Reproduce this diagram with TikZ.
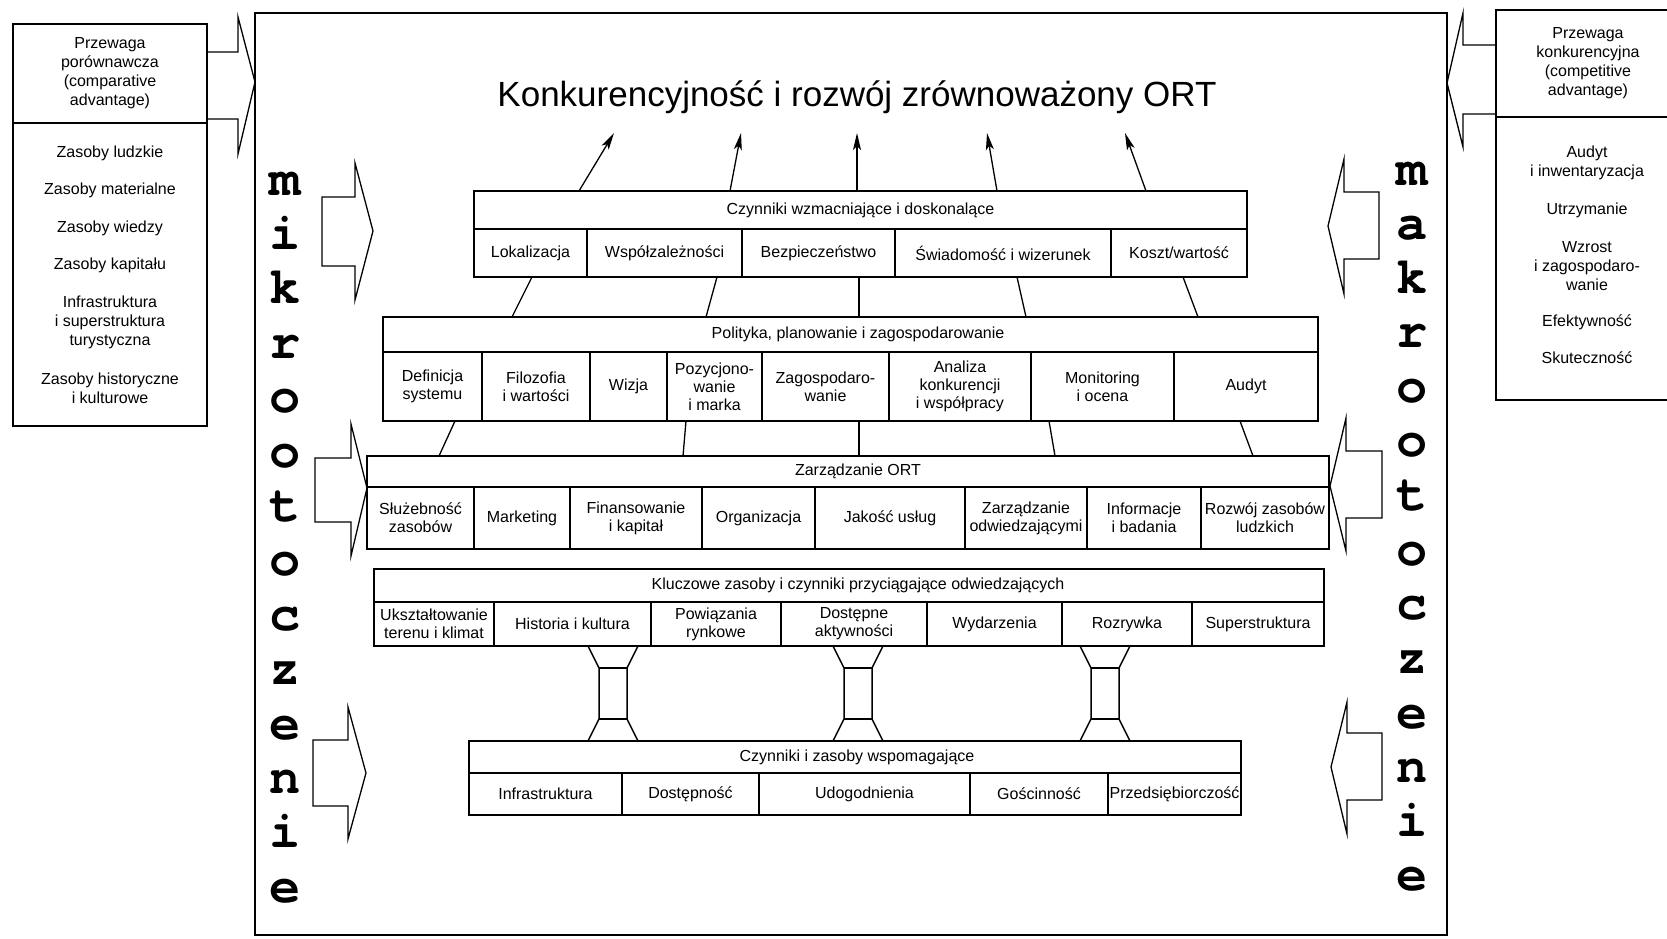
\documentclass[tikz,border=0pt]{standalone}
\usepackage{fontspec}
\setmainfont{Liberation Sans}
\newfontfamily\envfont{texgyrecursor-bold.otf}
\usetikzlibrary{arrows.meta}
% one cell of a layered box: name, left x, right x, centre y, height, text
\newcommand{\rowcell}[6]{%
  \node[cell, minimum width={#3-#2}, minimum height={#5}] (#1) at ({(#2+#3)/2},{#4}) {#6};}
\begin{document}
\begin{tikzpicture}[x=1pt,y=-1pt,
  every node/.style={inner sep=0pt, outer sep=0pt},
  cell/.style={draw, line width=1.7pt, align=center, font=\fontsize{16}{18}\selectfont},
  sidebox/.style={draw, line width=1.7pt, align=center, font=\fontsize{16}{19}\selectfont},
  sidetext/.style={align=center, font=\fontsize{16}{19}\selectfont},
  link/.style={line width=1.3pt},
  uparrow/.style={line width=1.3pt, -{Stealth[length=17pt,width=8pt,inset=4pt]}},
  blockarrow/.style={draw, line width=1.3pt, line join=miter},
  envletter/.style={font=\envfont\fontsize{52}{52}\selectfont}
]
\useasboundingbox (0,0) rectangle (1667,939);

% outer frame
\node[draw, line width=1.8pt, minimum width=1192, minimum height=922] (frame) at (851,474) {};
\draw[line width=2.8pt] (frame.north west) -- (frame.north east);

% title
\node[font=\fontsize{35}{40}\selectfont] (title) at (857,97) {Konkurencyjność i rozwój zrównoważony ORT};

% left side box: comparative advantage
\node[sidebox, minimum width=194, minimum height=99] (lbtop) at (110,73.5)
  {Przewaga\\porównawcza\\(comparative\\advantage)};
\node[draw, line width=1.7pt, minimum width=194, minimum height=303] (lbbot) at (110,274.5) {};
\node[sidetext] (l1) at (110,153) {Zasoby ludzkie};
\node[sidetext] (l2) at (110,190) {Zasoby materialne};
\node[sidetext] (l3) at (110,228) {Zasoby wiedzy};
\node[sidetext] (l4) at (110,265) {Zasoby kapitału};
\node[sidetext] (l5) at (110,322) {Infrastruktura\\i superstruktura\\turystyczna};
\node[sidetext] (l6) at (110,388) {Zasoby historyczne\\i kulturowe};

% right side box: competitive advantage
\node[sidebox, minimum width=184, minimum height=107] (rbtop) at (1588,63.5)
  {Przewaga\\konkurencyjna\\(competitive\\advantage)};
\node[draw, line width=1.7pt, minimum width=184, minimum height=283] (rbbot) at (1588,258.5) {};
\node[sidetext] (r1) at (1587,163) {Audyt\\i inwentaryzacja};
\node[sidetext] (r2) at (1587,210) {Utrzymanie};
\node[sidetext] (r3) at (1587,266) {Wzrost\\i zagospodaro-\\wanie};
\node[sidetext] (r4) at (1587,322) {Efektywność};
\node[sidetext] (r5) at (1587,358) {Skuteczność};

% big arrows from the side boxes into the frame
\draw[blockarrow] (207,52) -- (238,52) -- (238,17) -- (255,82) -- (238,154) -- (238,119) -- (207,119);
\draw[blockarrow] (1496,45) -- (1463,45) -- (1463,13) -- (1447,83) -- (1463,147) -- (1463,114) -- (1496,114);

% micro-environment arrows (pointing right)
\draw[blockarrow] (322,197) -- (355,197) -- (355,163) -- (373,231) -- (355,300) -- (355,266) -- (322,266) -- cycle;
\draw[blockarrow] (315,458) -- (351,458) -- (351,424) -- (367,488) -- (351,556) -- (351,522) -- (315,522) -- cycle;
\draw[blockarrow] (313,740) -- (348,740) -- (348,707) -- (366,773) -- (348,839) -- (348,806) -- (313,806) -- cycle;

% macro-environment arrows (pointing left)
\draw[blockarrow] (1379,192) -- (1344,192) -- (1344,159) -- (1328,226) -- (1344,294) -- (1344,259) -- (1379,259) -- cycle;
\draw[blockarrow] (1382,451) -- (1346,451) -- (1346,418) -- (1330,486) -- (1346,551) -- (1346,518) -- (1382,518) -- cycle;
\draw[blockarrow] (1382,733) -- (1347,733) -- (1347,702) -- (1331,767) -- (1347,834) -- (1347,800) -- (1382,800) -- cycle;

% vertical words
\foreach \ch [count=\k from 0] in {m,i,k,r,o,o,t,o,c,z,e,n,i,e}
  \node[envletter, anchor=base] (mikro\k) at (285,{195+54.4*\k}) {\ch};
\foreach \ch [count=\k from 0] in {m,a,k,r,o,o,t,o,c,z,e,n,i,e}
  \node[envletter, anchor=base] (makro\k) at (1412,{185+54.3*\k}) {\ch};

% layer 1
\rowcell{b1h}{474}{1247}{210}{38}{Czynniki wzmacniające i doskonalące}
\rowcell{b1a}{474}{587}{253}{48}{Lokalizacja}
\rowcell{b1b}{587}{742}{253}{48}{Współzależności}
\rowcell{b1c}{742}{895}{253}{48}{Bezpieczeństwo}
\rowcell{b1d}{895}{1111}{253}{48}{Świadomość i wizerunek}
\rowcell{b1e}{1111}{1247}{253}{48}{Koszt/wartość}

% layer 2 (header text sits on the common axis, slightly right of the box centre)
\rowcell{b2h}{383}{1318}{334.5}{35}{\hspace*{15pt}Polityka, planowanie i zagospodarowanie}
\rowcell{b2a}{383}{482}{386.5}{69}{Definicja\\systemu}
\rowcell{b2b}{482}{590}{386.5}{69}{Filozofia\\i wartości}
\rowcell{b2c}{590}{667}{386.5}{69}{Wizja}
\rowcell{b2d}{667}{762}{386.5}{69}{Pozycjono-\\wanie\\i marka}
\rowcell{b2e}{762}{889}{386.5}{69}{Zagospodaro-\\wanie}
\rowcell{b2f}{889}{1031}{386.5}{69}{Analiza\\konkurencji\\i współpracy}
\rowcell{b2g}{1031}{1174}{386.5}{69}{Monitoring\\i ocena}
\rowcell{b2i}{1174}{1318}{386.5}{69}{Audyt}

% layer 3
\rowcell{b3h}{367}{1329}{471.5}{31}{\hspace*{20pt}Zarządzanie ORT}
\rowcell{b3a}{367}{474}{518}{62}{Służebność\\zasobów}
\rowcell{b3b}{474}{570}{518}{62}{Marketing}
\rowcell{b3c}{570}{702}{518}{62}{Finansowanie\\i kapitał}
\rowcell{b3d}{702}{815}{518}{62}{Organizacja}
\rowcell{b3e}{815}{965}{518}{62}{Jakość usług}
\rowcell{b3f}{965}{1087}{518}{62}{Zarządzanie\\odwiedzającymi}
\rowcell{b3g}{1087}{1201}{518}{62}{Informacje\\i badania}
\rowcell{b3i}{1201}{1329}{518}{62}{Rozwój zasobów\\ludzkich}

% layer 4
\rowcell{b4h}{374}{1324}{585.5}{33}{\hspace*{18pt}Kluczowe zasoby i czynniki przyciągające odwiedzających}
\rowcell{b4a}{374}{494}{624}{44}{Ukształtowanie\\terenu i klimat}
\rowcell{b4b}{494}{651}{624}{44}{Historia i kultura}
\rowcell{b4c}{651}{781}{624}{44}{Powiązania\\rynkowe}
\rowcell{b4d}{781}{927}{624}{44}{Dostępne\\aktywności}
\rowcell{b4e}{927}{1062}{624}{44}{Wydarzenia}
\rowcell{b4f}{1062}{1192}{624}{44}{Rozrywka}
\rowcell{b4g}{1192}{1324}{624}{44}{Superstruktura}

% layer 5
\rowcell{b5h}{469}{1241}{757}{32}{\hspace*{4pt}Czynniki i zasoby wspomagające}
\rowcell{b5a}{469}{622}{794}{42}{Infrastruktura}
\rowcell{b5b}{622}{759}{794}{42}{Dostępność}
\rowcell{b5c}{759}{970}{794}{42}{Udogodnienia}
\rowcell{b5d}{970}{1108}{794}{42}{Gościnność}
\rowcell{b5e}{1108}{1241}{794}{42}{Przedsiębiorczość}

% links between layer 1 and layer 2
\draw[link] ([xshift=58pt]b1a.south west)  -- ([xshift=129pt]b2h.north west);
\draw[link] ([xshift=130pt]b1b.south west) -- ([xshift=323pt]b2h.north west);
\draw[link] ([xshift=117pt]b1c.south west) -- ([xshift=476pt]b2h.north west);
\draw[link] ([xshift=122pt]b1d.south west) -- ([xshift=643pt]b2h.north west);
\draw[link] ([xshift=72pt]b1e.south west)  -- ([xshift=815pt]b2h.north west);

% links between layer 2 and layer 3
\draw[link] ([xshift=72pt]b2a.south west) -- ([xshift=72pt]b3h.north west);
\draw[link] ([xshift=19pt]b2d.south west) -- ([xshift=316pt]b3h.north west);
\draw[link] ([xshift=97pt]b2e.south west) -- ([xshift=492pt]b3h.north west);
\draw[link] ([xshift=18pt]b2g.south west) -- ([xshift=688pt]b3h.north west);
\draw[link] ([xshift=66pt]b2i.south west) -- ([xshift=886pt]b3h.north west);

% arrows up to the goal
\coordinate (t1) at (614,133);
\coordinate (t2) at (741,133);
\coordinate (t3) at (857,133);
\coordinate (t4) at (987,133);
\coordinate (t5) at (1125,133);
\draw[uparrow] ([xshift=105pt]b1h.north west) -- (t1);
\draw[uparrow] ([xshift=256pt]b1h.north west) -- (t2);
\draw[uparrow] ([xshift=383pt]b1h.north west) -- (t3);
\draw[uparrow] ([xshift=523pt]b1h.north west) -- (t4);
\draw[uparrow] ([xshift=672pt]b1h.north west) -- (t5);

% pillars between layer 4 and layer 5
\foreach \c in {613,858,1105} {
  \draw[link, line width=1.5pt] ({\c-25},646) -- ({\c-14},668) -- ({\c-14},719) -- ({\c-25},741);
  \draw[link, line width=1.5pt] ({\c+25},646) -- ({\c+14},668) -- ({\c+14},719) -- ({\c+25},741);
  \draw[link, line width=1.5pt] ({\c-14},668) -- ({\c+14},668);
  \draw[link, line width=1.5pt] ({\c-14},719) -- ({\c+14},719);
}
\end{tikzpicture}
\end{document}
